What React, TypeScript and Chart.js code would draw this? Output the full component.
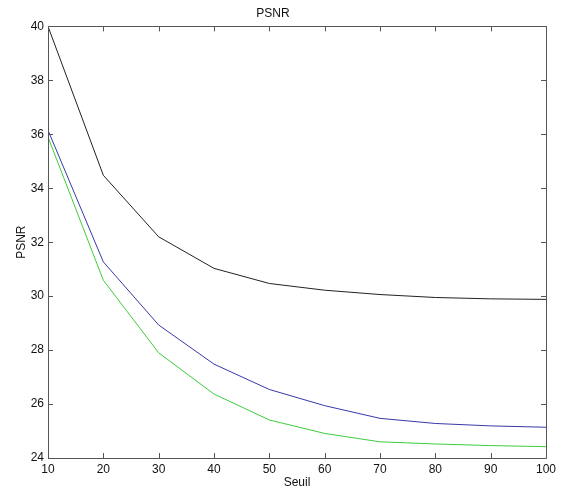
import React, { useEffect, useRef } from "react";
import { Chart, registerables } from "chart.js";

Chart.register(...registerables);

const seuil = [10, 20, 30, 40, 50, 60, 70, 80, 90, 100];
const psnrBlack = [40, 34.48, 32.2, 31.03, 30.47, 30.22, 30.06, 29.95, 29.9, 29.88];
const psnrBlue = [36.15, 31.27, 28.93, 27.48, 26.54, 25.94, 25.47, 25.28, 25.19, 25.14];
const psnrGreen = [35.9, 30.59, 27.9, 26.37, 25.41, 24.91, 24.6, 24.52, 24.46, 24.42];

const titleText = "PSNR";
const xTitle = "Seuil";
const yTitle = "PSNR";

const FONT = "'Liberation Sans', Arial, sans-serif";

const boxPlugin = {
  id: "matlabBox",
  afterDatasetsDraw(chart: any) {
    const { ctx, chartArea, scales } = chart;
    const { left, right, top, bottom } = chartArea;
    const xs = scales.x;
    const ys = scales.y;
    const tl = 5;
    ctx.save();
    ctx.strokeStyle = "#555";
    ctx.lineWidth = 1;
    ctx.beginPath();
    ctx.rect(Math.round(left) + 0.5, Math.round(top) + 0.5, Math.round(right - left), Math.round(bottom - top));
    ctx.stroke();
    ctx.beginPath();
    xs.ticks.forEach((t: any) => {
      const px = Math.round(xs.getPixelForValue(t.value)) + 0.5;
      ctx.moveTo(px, bottom);
      ctx.lineTo(px, bottom - tl);
      ctx.moveTo(px, top);
      ctx.lineTo(px, top + tl);
    });
    ys.ticks.forEach((t: any) => {
      const py = Math.round(ys.getPixelForValue(t.value)) + 0.5;
      ctx.moveTo(left, py);
      ctx.lineTo(left + tl, py);
      ctx.moveTo(right, py);
      ctx.lineTo(right - tl, py);
    });
    ctx.stroke();
    ctx.restore();
  },
};

export default function App() {
  const ref = useRef<HTMLCanvasElement | null>(null);
  useEffect(() => {
    if (!ref.current) return;
    const mk = (data: number[]) => seuil.map((x, i) => ({ x, y: data[i] }));
    const chart = new Chart(ref.current, {
      type: "line",
      data: {
        datasets: [
          { data: mk(psnrBlack), borderColor: "#222", borderWidth: 1, pointRadius: 0, fill: false, tension: 0 },
          { data: mk(psnrBlue), borderColor: "#3838a8", borderWidth: 1, pointRadius: 0, fill: false, tension: 0 },
          { data: mk(psnrGreen), borderColor: "#3ccc3c", borderWidth: 1, pointRadius: 0, fill: false, tension: 0 },
        ],
      },
      options: {
        responsive: false,
        animation: false,
        layout: { padding: { right: 18, left: 0, top: 0, bottom: 0 } },
        plugins: {
          legend: { display: false },
          tooltip: { enabled: false },
          title: {
            display: true,
            text: titleText,
            color: "#111",
            font: { family: FONT, size: 12, weight: "normal" },
            padding: { top: 6, bottom: 6 },
          },
        },
        scales: {
          x: {
            type: "linear",
            min: 10,
            max: 100,
            grid: { display: false, drawTicks: false },
            border: { display: false },
            ticks: {
              stepSize: 10,
              padding: 4,
              color: "#111",
              maxRotation: 0,
              font: { family: FONT, size: 12 },
            },
            title: {
              display: true,
              text: xTitle,
              color: "#111",
              font: { family: FONT, size: 12 },
              padding: { top: 0, bottom: 0 },
            },
            afterFit(scale: any) {
              scale.height = 32;
            },
          },
          y: {
            type: "linear",
            min: 24,
            max: 40,
            grid: { display: false, drawTicks: false },
            border: { display: false },
            ticks: {
              stepSize: 2,
              padding: 4,
              color: "#111",
              font: { family: FONT, size: 12 },
            },
            title: {
              display: true,
              text: yTitle,
              color: "#111",
              font: { family: FONT, size: 12 },
              padding: { top: 14, bottom: 0 },
            },
            afterFit(scale: any) {
              scale.width = 48;
            },
          },
        },
      },
      plugins: [boxPlugin],
    });
    return () => chart.destroy();
  }, []);
  return (
    <div style={{ position: "fixed", left: 0, top: 0, width: 564, height: 490, background: "#fff" }}>
      <canvas ref={ref} width={564} height={490} style={{ display: "block" }} />
    </div>
  );
}
